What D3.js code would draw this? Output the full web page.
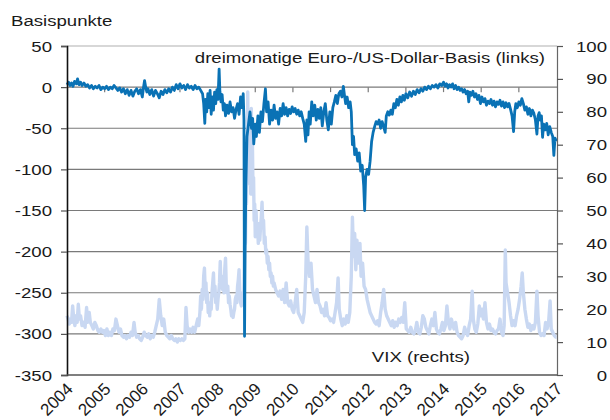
<!DOCTYPE html>
<html>
<head>
<meta charset="utf-8">
<script src="https://cdn.jsdelivr.net/npm/d3@7"></script>
<style>
  html, body { margin: 0; padding: 0; background: #fff; }
  svg { display: block; font-family: "Liberation Sans", Arial, Helvetica, sans-serif; }
</style>
</head>
<body>
<svg id="chart" width="610" height="420"></svg>
<script>
// Dreimonatige Euro-/US-Dollar-Basis in Basispunkten (linke Achse), [Jahr, Wert]
const basisData = [
  [2004.00,3],[2004.04,6],[2004.08,2],[2004.12,5],[2004.16,1],[2004.20,7],[2004.25,4],[2004.28,10],
  [2004.32,3],[2004.36,6],[2004.40,2],[2004.45,5],[2004.50,1],[2004.55,3],[2004.60,-1],[2004.65,2],
  [2004.70,-2],[2004.75,1],[2004.80,-1],[2004.85,2],[2004.90,-3],[2004.95,0],[2005.00,-2],[2005.05,1],
  [2005.10,-3],[2005.15,0],[2005.20,-2],[2005.25,2],[2005.30,-1],[2005.35,-4],[2005.40,-1],[2005.45,-6],
  [2005.50,-2],[2005.55,-8],[2005.60,-3],[2005.65,-10],[2005.70,-4],[2005.75,-11],[2005.80,-5],[2005.85,-2],
  [2005.90,-8],[2005.95,-3],[2006.00,-12],[2006.03,-1],[2006.06,8],[2006.09,0],[2006.12,-6],[2006.15,-2],
  [2006.20,-9],[2006.25,-3],[2006.30,-11],[2006.35,-4],[2006.40,-8],[2006.45,-13],[2006.50,-5],[2006.55,-9],
  [2006.60,-3],[2006.65,-7],[2006.70,-2],[2006.75,-6],[2006.80,0],[2006.85,-4],[2006.90,3],[2006.95,-2],
  [2007.00,4],[2007.05,-1],[2007.10,2],[2007.15,-3],[2007.20,3],[2007.25,-1],[2007.30,1],[2007.35,-3],
  [2007.40,2],[2007.45,-2],[2007.50,0],[2007.55,-4],[2007.60,-8],[2007.63,-20],[2007.66,-44],[2007.68,-15],
  [2007.71,-30],[2007.74,-8],[2007.77,-25],[2007.80,-4],[2007.83,-33],[2007.86,-12],[2007.89,-28],[2007.92,-6],
  [2007.95,-20],[2007.98,-3],[2008.01,-15],[2008.04,22],[2008.06,-5],[2008.09,-18],[2008.12,-9],[2008.15,-28],
  [2008.18,-20],[2008.21,-35],[2008.25,-22],[2008.29,-32],[2008.33,-18],[2008.37,-30],[2008.41,-25],[2008.45,-38],
  [2008.49,-27],[2008.53,-20],[2008.57,-33],[2008.61,-12],[2008.65,-25],[2008.68,-8],[2008.70,-40],[2008.715,-303],
  [2008.73,-200],[2008.75,-120],[2008.78,-60],[2008.82,-45],[2008.86,-30],[2008.90,-50],[2008.93,-38],[2008.96,-69],
  [2009.00,-45],[2009.03,-60],[2009.07,-35],[2009.11,-55],[2009.15,-30],[2009.19,-42],[2009.23,-20],[2009.27,-2],
  [2009.30,-30],[2009.34,-18],[2009.38,-45],[2009.42,-28],[2009.46,-40],[2009.50,-22],[2009.54,-38],[2009.58,-30],
  [2009.62,-45],[2009.66,-26],[2009.70,-35],[2009.74,-20],[2009.78,-33],[2009.82,-25],[2009.86,-35],[2009.90,-27],
  [2009.94,-32],[2009.98,-24],[2010.02,-30],[2010.06,-26],[2010.10,-33],[2010.14,-28],[2010.18,-35],[2010.22,-30],
  [2010.26,-38],[2010.30,-45],[2010.34,-66],[2010.37,-40],[2010.40,-58],[2010.43,-30],[2010.46,-45],[2010.50,-18],
  [2010.54,-35],[2010.58,-22],[2010.62,-40],[2010.66,-27],[2010.70,-38],[2010.74,-25],[2010.78,-47],[2010.82,-30],
  [2010.86,-20],[2010.90,-40],[2010.94,-52],[2010.98,-30],[2011.02,-45],[2011.06,-25],[2011.10,-18],[2011.14,-10],
  [2011.18,-20],[2011.22,-8],[2011.26,-5],[2011.30,-12],[2011.34,1],[2011.37,-10],[2011.40,-20],[2011.44,-12],
  [2011.48,-25],[2011.52,-18],[2011.55,-30],[2011.58,-70],[2011.61,-60],[2011.64,-82],[2011.68,-75],[2011.72,-90],
  [2011.76,-80],[2011.80,-102],[2011.84,-95],[2011.88,-120],[2011.905,-150],[2011.93,-110],[2011.97,-100],[2012.01,-106],
  [2012.05,-90],[2012.09,-66],[2012.13,-55],[2012.17,-48],[2012.21,-42],[2012.25,-45],[2012.29,-40],[2012.33,-50],
  [2012.37,-42],[2012.41,-48],[2012.45,-55],[2012.48,-35],[2012.52,-30],[2012.56,-34],[2012.60,-28],[2012.64,-33],
  [2012.68,-20],[2012.72,-25],[2012.76,-15],[2012.80,-22],[2012.84,-12],[2012.88,-18],[2012.92,-10],[2012.96,-16],
  [2013.00,-8],[2013.05,-13],[2013.10,-6],[2013.15,-11],[2013.20,-5],[2013.25,-9],[2013.30,-3],[2013.35,-7],
  [2013.40,-2],[2013.45,-5],[2013.50,0],[2013.55,-3],[2013.60,1],[2013.65,-2],[2013.70,2],[2013.75,0],
  [2013.80,3],[2013.85,-1],[2013.90,4],[2013.95,2],[2014.00,6],[2014.04,1],[2014.08,4],[2014.12,-1],
  [2014.16,3],[2014.20,0],[2014.24,4],[2014.28,-2],[2014.32,2],[2014.36,-3],[2014.40,0],[2014.44,-4],
  [2014.48,-2],[2014.52,-6],[2014.56,-3],[2014.60,-8],[2014.64,-5],[2014.67,-18],[2014.70,-6],[2014.74,-10],
  [2014.78,-5],[2014.82,-12],[2014.86,-8],[2014.90,-15],[2014.94,-10],[2014.98,-20],[2015.02,-12],[2015.06,-18],
  [2015.10,-14],[2015.14,-22],[2015.18,-17],[2015.22,-20],[2015.26,-15],[2015.30,-22],[2015.34,-17],[2015.38,-24],
  [2015.42,-18],[2015.46,-21],[2015.50,-16],[2015.54,-23],[2015.58,-18],[2015.62,-25],[2015.66,-19],[2015.70,-24],
  [2015.74,-20],[2015.78,-27],[2015.82,-35],[2015.86,-54],[2015.89,-30],[2015.92,-20],[2015.96,-25],[2016.00,-18],
  [2016.04,-22],[2016.08,-14],[2016.12,-20],[2016.16,-28],[2016.20,-24],[2016.24,-33],[2016.28,-26],[2016.32,-35],
  [2016.36,-28],[2016.40,-32],[2016.44,-40],[2016.48,-57],[2016.51,-35],[2016.54,-31],[2016.57,-40],[2016.60,-35],
  [2016.63,-61],[2016.66,-45],[2016.70,-52],[2016.74,-44],[2016.78,-58],[2016.82,-48],[2016.86,-55],[2016.90,-60],
  [2016.93,-83],[2016.96,-62],[2017.00,-66]
];

// VIX-Index (rechte Achse), [Jahr, Wert]
const vixData = [
  [2004.00,18],[2004.03,17],[2004.06,15.5],[2004.09,17],[2004.12,16],[2004.15,21],[2004.18,17],[2004.21,15],
  [2004.24,18],[2004.27,16],[2004.30,21.5],[2004.33,17],[2004.36,18],[2004.40,15],[2004.44,16],[2004.48,14.5],
  [2004.52,20.5],[2004.55,16],[2004.59,19],[2004.62,16],[2004.66,15],[2004.70,14],[2004.74,16],[2004.78,15],
  [2004.82,13.5],[2004.86,13],[2004.90,14],[2004.94,13],[2004.98,13.5],[2005.02,12],[2005.06,14],[2005.10,12],
  [2005.14,13],[2005.18,12],[2005.22,14],[2005.26,13.5],[2005.30,17],[2005.34,15],[2005.38,13],[2005.42,14],
  [2005.46,12],[2005.50,11.5],[2005.54,12],[2005.58,11],[2005.62,12],[2005.66,11.5],[2005.70,13],[2005.74,12],
  [2005.78,16],[2005.81,13],[2005.85,11.5],[2005.89,12],[2005.93,11],[2005.97,10.5],[2006.01,11.5],[2006.05,13],
  [2006.09,12],[2006.13,11.5],[2006.17,12.5],[2006.21,11],[2006.25,12],[2006.29,11.5],[2006.33,13],[2006.37,15],
  [2006.41,17],[2006.45,23],[2006.49,18],[2006.53,15],[2006.57,17],[2006.61,13],[2006.65,12],[2006.69,11.5],
  [2006.73,11],[2006.77,12],[2006.81,11],[2006.85,10.5],[2006.89,11],[2006.93,10],[2006.97,11],[2007.01,10.5],
  [2007.05,11],[2007.09,10.5],[2007.13,11],[2007.16,20.5],[2007.19,15],[2007.23,13],[2007.27,14],[2007.31,13],
  [2007.35,14.5],[2007.39,13],[2007.43,15],[2007.47,17],[2007.50,15],[2007.53,19],[2007.55,24],[2007.57,20],
  [2007.59,26],[2007.61,23],[2007.63,30],[2007.65,32.5],[2007.67,26],[2007.69,28],[2007.71,22],[2007.73,25],
  [2007.75,19],[2007.77,21],[2007.79,18],[2007.81,22],[2007.83,20],[2007.85,25],[2007.87,28],[2007.89,31],
  [2007.91,24],[2007.93,27],[2007.95,22],[2007.97,24],[2007.99,20],[2008.01,23],[2008.03,25],[2008.05,28],
  [2008.07,34.5],[2008.09,27],[2008.11,30],[2008.13,26],[2008.15,28],[2008.17,25],[2008.19,32],[2008.21,35.5],
  [2008.23,27],[2008.25,25],[2008.27,27],[2008.29,22],[2008.31,24],[2008.33,21.5],[2008.35,20],[2008.37,18],
  [2008.39,19],[2008.41,17.5],[2008.43,19],[2008.45,20],[2008.47,23],[2008.49,24],[2008.51,22],[2008.53,27],
  [2008.55,29],[2008.57,32],[2008.59,25],[2008.61,22],[2008.63,21],[2008.65,23],[2008.67,25],[2008.69,22],
  [2008.71,33],[2008.725,46],[2008.74,40],[2008.75,55],[2008.765,52],[2008.78,70],[2008.79,62],[2008.80,86],
  [2008.81,68],[2008.82,78],[2008.83,60],[2008.845,72],[2008.86,58],[2008.87,68],[2008.88,55],[2008.895,81],
  [2008.91,62],[2008.925,70],[2008.94,55],[2008.955,60],[2008.97,47],[2008.985,52],[2009.00,42],[2009.02,50],
  [2009.04,44],[2009.06,46],[2009.08,40],[2009.10,46],[2009.12,41],[2009.14,45],[2009.16,48],[2009.18,52.5],
  [2009.20,45],[2009.22,47],[2009.24,40],[2009.26,42],[2009.28,37],[2009.30,38],[2009.32,34],[2009.34,36],
  [2009.36,32],[2009.38,34],[2009.40,30],[2009.42,31],[2009.44,28],[2009.46,30],[2009.48,27],[2009.50,28],
  [2009.54,26],[2009.58,25],[2009.62,24],[2009.66,25.5],[2009.70,23],[2009.74,26],[2009.78,22],[2009.82,28],
  [2009.86,22],[2009.90,21],[2009.94,22.5],[2009.98,20],[2010.02,19],[2010.06,22],[2010.10,26],[2010.14,19],
  [2010.18,18],[2010.22,17],[2010.26,16],[2010.30,19],[2010.34,30],[2010.37,45],[2010.40,35],[2010.44,30],
  [2010.48,34],[2010.52,26],[2010.56,24],[2010.60,22],[2010.64,26],[2010.68,22],[2010.72,21],[2010.76,19],
  [2010.80,20],[2010.84,18],[2010.88,22],[2010.92,18],[2010.96,17.5],[2011.00,16.5],[2011.04,17],[2011.08,16],
  [2011.12,19],[2011.16,22],[2011.20,29.5],[2011.23,20],[2011.27,17],[2011.31,15],[2011.35,17],[2011.39,15.5],
  [2011.43,18],[2011.47,16],[2011.51,19],[2011.55,30],[2011.58,48],[2011.61,36],[2011.64,43],[2011.67,32],
  [2011.70,41],[2011.74,34],[2011.78,40],[2011.81,30],[2011.85,34],[2011.89,27],[2011.93,26],[2011.97,23],
  [2012.01,21],[2012.05,19],[2012.09,18],[2012.13,17],[2012.17,16],[2012.21,15.5],[2012.25,16.5],[2012.29,15],
  [2012.33,19],[2012.37,22],[2012.41,26],[2012.45,20],[2012.49,18],[2012.53,17],[2012.57,16],[2012.61,15],
  [2012.65,16.5],[2012.69,14.5],[2012.73,16],[2012.77,15],[2012.81,17],[2012.85,16],[2012.89,17.5],[2012.93,16],
  [2012.97,22],[2013.01,14],[2013.05,13.5],[2013.09,13],[2013.13,14.5],[2013.17,13],[2013.21,12.5],[2013.25,13.5],
  [2013.29,16],[2013.33,13],[2013.37,12.5],[2013.41,14.5],[2013.45,18],[2013.49,17],[2013.53,14.5],[2013.57,13.5],
  [2013.61,12.5],[2013.65,15],[2013.69,17],[2013.73,15],[2013.77,19],[2013.81,14],[2013.85,13],[2013.89,12.5],
  [2013.93,14],[2013.97,16],[2014.01,13.5],[2014.05,15],[2014.09,21],[2014.13,16],[2014.17,14],[2014.21,17],
  [2014.24,15.5],[2014.28,14],[2014.32,16],[2014.36,13],[2014.40,12],[2014.44,11.5],[2014.48,11],[2014.52,12],
  [2014.56,14.5],[2014.60,13],[2014.64,12],[2014.68,15],[2014.72,17],[2014.76,25.5],[2014.79,17],[2014.83,14],
  [2014.87,13],[2014.91,15.5],[2014.95,21],[2014.98,18],[2015.02,20],[2015.06,17],[2015.10,22],[2015.14,16],
  [2015.18,14],[2015.22,15.5],[2015.26,13.5],[2015.30,14],[2015.34,13],[2015.38,12.5],[2015.42,13.5],[2015.46,14],
  [2015.50,17],[2015.54,13],[2015.58,12],[2015.61,15],[2015.64,38],[2015.66,28],[2015.70,25],[2015.74,22],
  [2015.78,18],[2015.82,15],[2015.86,16.5],[2015.90,15],[2015.94,18],[2015.98,20],[2016.02,23],[2016.06,27],
  [2016.09,31],[2016.12,25],[2016.16,20],[2016.20,17],[2016.24,14.5],[2016.28,15.5],[2016.32,13.5],[2016.36,15],
  [2016.40,14],[2016.44,16],[2016.48,25.5],[2016.51,18],[2016.55,13],[2016.59,12],[2016.63,12.5],[2016.67,12],
  [2016.71,16],[2016.75,14],[2016.79,16],[2016.83,22.5],[2016.86,14],[2016.90,13],[2016.94,12],[2016.98,11.5],
  [2017.00,11.5]
];

const leftTicks = [50, 0, -50, -100, -150, -200, -250, -300, -350];
const rightTicks = [0, 10, 20, 30, 40, 50, 60, 70, 80, 90, 100];
const yearTicks = [2004, 2005, 2006, 2007, 2008, 2009, 2010, 2011, 2012, 2013, 2014, 2015, 2016, 2017];

const unitLabel = "Basispunkte";
const basisLabel = "dreimonatige Euro-/US-Dollar-Basis (links)";
const vixLabel = "VIX (rechts)";

const plot = { left: 67, right: 557, top: 46, bottom: 375 };
const fontSize = 15.5;
const widen = 1.2;            // glyphs are set slightly wide
const textColor = "#1a1a1a";
const gridColor = "#7a7a7a";

const svg = d3.select("#chart");

const x = d3.scaleLinear().domain([2004, 2017]).range([plot.left, plot.right - 0.5]);
const yL = d3.scaleLinear().domain([-350, 50]).range([plot.bottom, plot.top]);
const yR = d3.scaleLinear().domain([0, 100]).range([plot.bottom, plot.top]);

// text placed at (px, py), widened horizontally around its anchor
function label(g, px, py, str, anchor) {
  return g.append("text")
    .attr("transform", `translate(${px},${py}) scale(${widen},1)`)
    .attr("text-anchor", anchor)
    .attr("font-size", fontSize)
    .attr("fill", textColor)
    .text(str);
}

// horizontal grid lines (left-axis steps)
svg.append("g")
  .selectAll("line")
  .data(leftTicks.filter(v => v > -350))
  .join("line")
  .attr("x1", plot.left).attr("x2", plot.right)
  .attr("y1", d => yL(d)).attr("y2", d => yL(d))
  .attr("stroke", d => d === 50 ? "#b0b0b0" : gridColor)
  .attr("stroke-width", 1.2);

// year ticks hanging below the zero line
svg.append("g")
  .selectAll("line")
  .data(yearTicks.slice(1, -1))
  .join("line")
  .attr("x1", d => x(d)).attr("x2", d => x(d))
  .attr("y1", yL(0)).attr("y2", yL(0) + 5)
  .attr("stroke", gridColor)
  .attr("stroke-width", 1.2);

// series lines
const lineVix = d3.line().x(d => x(d[0])).y(d => yR(d[1]));
const lineBasis = d3.line().x(d => x(d[0])).y(d => yL(d[1]));

svg.append("path")
  .datum(vixData)
  .attr("d", lineVix)
  .attr("fill", "none")
  .attr("stroke", "#c9d8f2")
  .attr("stroke-width", 3.4)
  .attr("stroke-linejoin", "round");

svg.append("path")
  .datum(basisData)
  .attr("d", lineBasis)
  .attr("fill", "none")
  .attr("stroke", "#0a72b5")
  .attr("stroke-width", 2.8)
  .attr("stroke-linejoin", "round");

// left axis
const axL = svg.append("g")
  .attr("transform", `translate(${plot.left},0)`)
  .call(d3.axisLeft(yL).tickValues(leftTicks).tickSize(6).tickFormat(""));
axL.select(".domain").attr("stroke", "#111").attr("stroke-width", 1.6);
axL.selectAll(".tick line").attr("stroke", "#555").attr("stroke-width", 1.2);
const gL = svg.append("g");
leftTicks.forEach(v => label(gL, 52, yL(v), String(v), "end").attr("dy", "0.36em"));

// right axis
const axR = svg.append("g")
  .attr("transform", `translate(${plot.right},0)`)
  .call(d3.axisRight(yR).tickValues(rightTicks).tickSize(6).tickFormat(""));
axR.select(".domain").attr("stroke", "#666").attr("stroke-width", 1.2);
axR.selectAll(".tick line").attr("stroke", "#555").attr("stroke-width", 1.2);
const gR = svg.append("g");
rightTicks.forEach(v => label(gR, 607, yR(v), String(v), "end").attr("dy", "0.36em"));

// bottom axis with slanted year labels
svg.append("line")
  .attr("x1", plot.left).attr("x2", plot.right)
  .attr("y1", plot.bottom).attr("y2", plot.bottom)
  .attr("stroke", "#555").attr("stroke-width", 1.4);
svg.append("g")
  .selectAll("text")
  .data(yearTicks)
  .join("text")
  .attr("transform", d => `translate(${x(d) + 7},${plot.bottom + 15}) rotate(-45)`)
  .attr("text-anchor", "end")
  .attr("font-size", 17)
  .attr("fill", textColor)
  .text(d => d);

// unit and series labels
const gT = svg.append("g");
label(gT, 11, 26, unitLabel, "start");
label(gT, 545, 63, basisLabel, "end");
label(gT, 470, 362, vixLabel, "end");
</script>
</body>
</html>
